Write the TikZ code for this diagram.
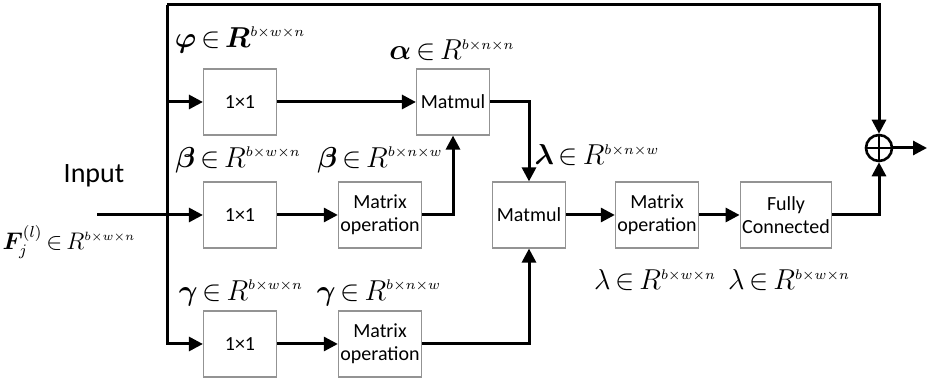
\documentclass[tikz,border=0pt]{standalone}
\usepackage{amsmath}
\usepackage{amssymb}
\usepackage{bm}
\usepackage{fontspec}
\setsansfont{Carlito}
\usetikzlibrary{arrows.meta,positioning,calc}

% small superscript for the tensor sizes, tight element sign
\newcommand{\dims}[3]{^{\scriptscriptstyle #1\times #2\times #3}}
\newcommand{\inn}{{\,\in\,}}

\begin{document}
\begin{tikzpicture}[x=0.5pt,y=-0.5pt,
    blk/.style={draw=gray!85, line width=0.6pt, minimum width=36.5pt, minimum height=33pt,
                align=center, inner sep=1pt, font=\sffamily\fontsize{10}{11.5}\selectfont},
    opblk/.style={blk, minimum width=39pt},
    flow/.style={line width=1.5pt, -{Triangle[length=7pt,width=7pt]}},
    lbl/.style={inner sep=0pt, font=\fontsize{13.8}{16}\selectfont}]

    % Fix the frame of the picture
    \useasboundingbox (0,0) rectangle (927,383);

    % The three 1x1 branches
    \node[blk] (phi) at (240,102) {1×1};
    \node[blk] (beta) at (240,215) {1×1};
    \node[blk] (gam) at (240,344) {1×1};

    % Matrix operations and products
    \node[blk] (mmA) at (453,102) {Matmul};
    \node[opblk] (opB) at (380,215) {Matrix\\operation};
    \node[opblk] (opG) at (380,344) {Matrix\\operation};
    \node[blk] (mmB) at (529,215) {Matmul};
    \node[opblk] (opL) at (657,215) {Matrix\\operation};
    \node[blk, minimum width=42.5pt] (fc) at (786,215) {Fully\\Connected};

    % The sum at the right
    \node[circle, draw, line width=1.3pt, minimum size=13pt, inner sep=0pt] (sum) at (879,148) {};
    \draw[line width=1.3pt] (sum.north) -- (sum.south);
    \draw[line width=1.3pt] (sum.west) -- (sum.east);

    % Free ends of the connectors
    \coordinate (in) at (97,215);
    \coordinate (tl) at (167,5);
    \coordinate (out) at (927,148);

    % Input and the shortcut over the top
    \draw[flow] (in) -- (beta);
    \draw[flow] (tl) |- (gam.west);
    \draw[flow] (tl |- phi) -- (phi);
    \draw[flow] (tl) -| (sum.north);

    % Connectors between the blocks
    \draw[flow] (phi) -- (mmA);
    \draw[flow] (beta) -- (opB);
    \draw[flow] (opB.east) -| (mmA.south);
    \draw[flow] (gam) -- (opG);
    \draw[flow] (opG.east) -| (mmB.south);
    \draw[flow] (mmA.east) -| (mmB.north);
    \draw[flow] (mmB) -- (opL);
    \draw[flow] (opL) -- (fc);
    \draw[flow] (fc.east) -| (sum.south);
    \draw[flow] (sum.east) -- (out);

    % Labels
    \node[inner sep=0pt, font=\sffamily\fontsize{14}{16}\selectfont] (inp) at (94,176) {Input};
    \node[inner sep=0pt, font=\fontsize{11.5}{13}\selectfont] (lF) at (69,242) {$\bm{F}_j^{(l)}\inn R\dims{b}{w}{n}$};
    \node[lbl] (lphi) at (240,40) {$\bm{\varphi}\inn\bm{R}\dims{b}{w}{n}$};
    \node[lbl] (lalpha) at (452,50) {$\bm{\alpha}\inn R\dims{b}{n}{n}$};
    \node[lbl] (lbeta1) at (238,160) {$\bm{\beta}\inn R\dims{b}{w}{n}$};
    \node[lbl] (lbeta2) at (380,160) {$\bm{\beta}\inn R\dims{b}{n}{w}$};
    \node[lbl] (lgam1) at (241,293) {$\bm{\gamma}\inn R\dims{b}{w}{n}$};
    \node[lbl] (lgam2) at (379,293) {$\bm{\gamma}\inn R\dims{b}{n}{w}$};
    \node[lbl] (llam1) at (597,155) {$\bm{\lambda}\inn R\dims{b}{n}{w}$};
    \node[lbl] (llam2) at (655,280) {$\lambda\inn R\dims{b}{w}{n}$};
    \node[lbl] (llam3) at (789,280) {$\lambda\inn R\dims{b}{w}{n}$};
\end{tikzpicture}
\end{document}
